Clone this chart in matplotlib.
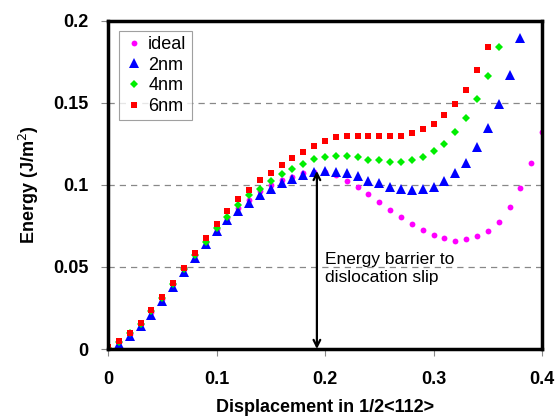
import numpy as np
import matplotlib
matplotlib.use('Agg')
import matplotlib.pyplot as plt

plt.rcParams['font.family'] = ['Liberation Sans', 'DejaVu Sans']

# displacement steps (1/2<112>)
disp = np.round(np.arange(0, 0.401, 0.01), 2)

ideal = [0.0005, 0.004, 0.009, 0.015, 0.0225, 0.0305, 0.0395, 0.0485, 0.057, 0.065,
         0.073, 0.080, 0.086, 0.091, 0.096, 0.100, 0.103, 0.105, 0.107, 0.108,
         0.108, 0.106, 0.1024, 0.0988, 0.0943, 0.0898, 0.085, 0.0803, 0.076, 0.0726,
         0.0695, 0.0675, 0.066, 0.0669, 0.0687, 0.072, 0.0776, 0.0866, 0.0982, 0.1134,
         0.132]
nm2 = [0.0, 0.003, 0.008, 0.014, 0.021, 0.029, 0.038, 0.047, 0.0555, 0.064,
       0.072, 0.0787, 0.084, 0.089, 0.0939, 0.0976, 0.101, 0.1037, 0.1063, 0.108,
       0.1085, 0.108, 0.1073, 0.1055, 0.1024, 0.1012, 0.0988, 0.0976, 0.0972, 0.0976,
       0.099, 0.1022, 0.1073, 0.1134, 0.1234, 0.1345, 0.1492, 0.167, 0.1896]
nm4 = [0.0005, 0.0045, 0.0095, 0.0155, 0.023, 0.031, 0.0398, 0.0487, 0.0575, 0.0655,
       0.0736, 0.0807, 0.0878, 0.094, 0.0977, 0.1024, 0.1065, 0.1096, 0.1126, 0.1155,
       0.117, 0.1175, 0.1175, 0.117, 0.1154, 0.115, 0.1142, 0.1142, 0.115, 0.117,
       0.1207, 0.1252, 0.132, 0.1409, 0.1522, 0.1663, 0.184]
nm6 = [0.001, 0.005, 0.010, 0.016, 0.0235, 0.0317, 0.0405, 0.0494, 0.0587, 0.0675,
       0.0764, 0.084, 0.0915, 0.097, 0.103, 0.107, 0.112, 0.1167, 0.120, 0.124,
       0.1266, 0.129, 0.1295, 0.1295, 0.1295, 0.1295, 0.1295, 0.130, 0.1317, 0.134,
       0.137, 0.1425, 0.149, 0.158, 0.170, 0.184]

fig = plt.figure(figsize=(5.58, 4.16), dpi=100)
ax = fig.add_axes([0.1935, 0.161, 0.778, 0.789])

for yv in [0.05, 0.1, 0.15]:
    ax.axhline(yv, color='#888888', linestyle=(0, (5, 4)), linewidth=0.9, zorder=0)

ax.plot(disp[:len(ideal)], ideal, 'o', color='#FF00FF', markersize=4.2, markeredgewidth=0, label='ideal')
ax.plot(disp[:len(nm2)], nm2, '^', color='#0000FF', markersize=6.5, markeredgewidth=0, label='2nm')
ax.plot(disp[:len(nm4)], nm4, 'D', color='#00EE00', markersize=4.2, markeredgewidth=0, label='4nm')
ax.plot(disp[:len(nm6)], nm6, 's', color='#FF0000', markersize=4.8, markeredgewidth=0, label='6nm')

ax.annotate('', xy=(0.1925, 0.0), xytext=(0.1925, 0.1085),
            arrowprops=dict(arrowstyle='<->', color='black', lw=1.6,
                            mutation_scale=12, shrinkA=0, shrinkB=0))
ax.text(0.2, 0.059, 'Energy barrier to\ndislocation slip', fontsize=12.5,
        va='top', ha='left', linespacing=1.25)

ax.set_xlim(0, 0.4)
ax.set_ylim(0, 0.2)
ax.set_xticks([0, 0.1, 0.2, 0.3, 0.4])
ax.set_xticklabels(['0', '0.1', '0.2', '0.3', '0.4'])
ax.set_yticks([0, 0.05, 0.1, 0.15, 0.2])
ax.set_yticklabels(['0', '0.05', '0.1', '0.15', '0.2'])
ax.tick_params(direction='out', length=5, width=0.8, color='#888888', labelsize=13)
ax.tick_params(axis='x', pad=11)
ax.tick_params(axis='y', pad=9)
for lab in ax.get_xticklabels() + ax.get_yticklabels():
    lab.set_fontweight('bold')
for sp in ax.spines.values():
    sp.set_linewidth(2.5)

ax.set_xlabel('Displacement in 1/2<112>', fontsize=13, fontweight='bold', labelpad=8)
ax.set_ylabel('Energy (J/m$^2$)', fontsize=13, fontweight='bold', labelpad=9)

leg = ax.legend(loc='upper left', bbox_to_anchor=(0.026, 0.97), fontsize=13,
                frameon=True, fancybox=False, handletextpad=0.3, borderpad=0.3,
                labelspacing=0.2, handlelength=1.0, borderaxespad=0)
leg.get_frame().set_edgecolor('#888888')
leg.get_frame().set_linewidth(0.8)

fig.savefig('out.png', dpi=100)
